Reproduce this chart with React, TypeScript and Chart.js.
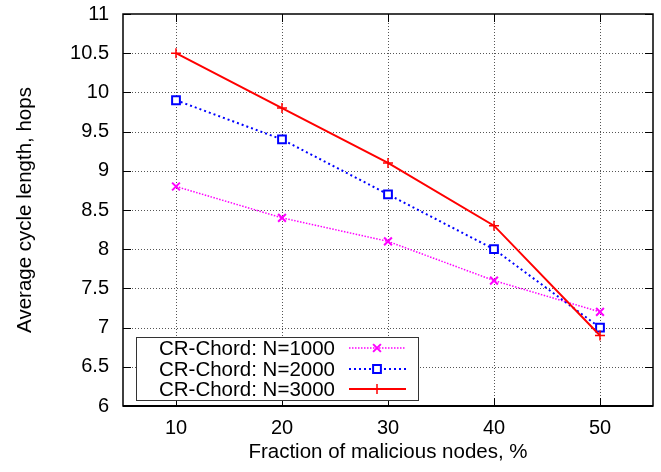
import React, { useEffect, useRef } from 'react';
import { Chart, registerables } from 'chart.js';

Chart.register(...registerables);

const xValues = [10, 20, 30, 40, 50];
const n1000 = [8.8, 8.4, 8.1, 7.6, 7.2];
const n2000 = [9.9, 9.4, 8.7, 8.0, 7.0];
const n3000 = [10.5, 9.8, 9.1, 8.3, 6.9];
const seriesLabels = ['CR-Chord: N=1000', 'CR-Chord: N=2000', 'CR-Chord: N=3000'];
const xTicks = [10, 20, 30, 40, 50];
const yTicks = [6, 6.5, 7, 7.5, 8, 8.5, 9, 9.5, 10, 10.5, 11];
const xTitle = 'Fraction of malicious nodes, %';
const yTitle = 'Average cycle length, hops';

const FONT = '"Liberation Sans", Arial, Helvetica, sans-serif';

const styles = [
  { color: '#ff00ff', dash: [1.5, 1.5], width: 1.5, marker: 'crossRot' },
  { color: '#0000ff', dash: [2, 3], width: 2, marker: 'rect' },
  { color: '#ff0000', dash: [], width: 2, marker: 'cross' },
];

function drawMarker(ctx: CanvasRenderingContext2D, kind: string, cx: number, cy: number, color: string) {
  ctx.save();
  ctx.setLineDash([]);
  ctx.strokeStyle = color;
  ctx.beginPath();
  if (kind === 'crossRot') {
    ctx.lineWidth = 2;
    const d = 3.9;
    ctx.moveTo(cx - d, cy - d); ctx.lineTo(cx + d, cy + d);
    ctx.moveTo(cx + d, cy - d); ctx.lineTo(cx - d, cy + d);
    ctx.stroke();
  } else if (kind === 'rect') {
    ctx.lineWidth = 2;
    ctx.fillStyle = '#ffffff';
    ctx.rect(cx - 3.9, cy - 3.9, 7.8, 7.8);
    ctx.fill();
    ctx.stroke();
  } else {
    ctx.lineWidth = 1.5;
    const d = 5;
    ctx.moveTo(cx - d, cy); ctx.lineTo(cx + d, cy);
    ctx.moveTo(cx, cy - d); ctx.lineTo(cx, cy + d);
    ctx.stroke();
  }
  ctx.restore();
}

const framePlugin = {
  id: 'frame',
  beforeDatasetsDraw(chart: any) {
    const { ctx, chartArea: a, scales } = chart;
    const xs = scales.x;
    const ys = scales.y;
    ctx.save();
    ctx.strokeStyle = '#555555';
    ctx.lineWidth = 1;
    ctx.setLineDash([1, 2]);
    xTicks.forEach((v) => {
      const px = Math.round(xs.getPixelForValue(v)) + 0.5;
      ctx.beginPath();
      ctx.moveTo(px, a.top);
      ctx.lineTo(px, a.bottom);
      ctx.stroke();
    });
    yTicks.forEach((v) => {
      if (v === 6 || v === 11) return;
      const py = Math.round(ys.getPixelForValue(v)) + 0.5;
      ctx.beginPath();
      ctx.moveTo(a.left, py);
      ctx.lineTo(a.right, py);
      ctx.stroke();
    });
    ctx.setLineDash([]);
    ctx.strokeStyle = '#000000';
    const tl = 8;
    xTicks.forEach((v) => {
      const px = Math.round(xs.getPixelForValue(v)) + 0.5;
      ctx.beginPath();
      ctx.moveTo(px, a.bottom);
      ctx.lineTo(px, a.bottom - tl);
      ctx.moveTo(px, a.top);
      ctx.lineTo(px, a.top + tl);
      ctx.stroke();
    });
    yTicks.forEach((v) => {
      const py = Math.round(ys.getPixelForValue(v)) + 0.5;
      ctx.beginPath();
      ctx.moveTo(a.left, py);
      ctx.lineTo(a.left + tl, py);
      ctx.moveTo(a.right, py);
      ctx.lineTo(a.right - tl, py);
      ctx.stroke();
    });
    ctx.lineWidth = 1.5;
    ctx.strokeRect(a.left, a.top, a.right - a.left, a.bottom - a.top);
    ctx.lineWidth = 2;
    ctx.beginPath();
    ctx.moveTo(a.left, a.bottom);
    ctx.lineTo(a.right, a.bottom);
    ctx.stroke();
    ctx.restore();
  },
  afterDatasetsDraw(chart: any) {
    const { ctx, chartArea: a } = chart;
    ctx.save();
    const bx = a.left + 13;
    const by = a.bottom - 69;
    const bw = 282;
    const bh = 63;
    ctx.fillStyle = '#ffffff';
    ctx.fillRect(bx, by, bw, bh);
    ctx.strokeStyle = '#333333';
    ctx.lineWidth = 1;
    ctx.strokeRect(bx + 0.5, by + 0.5, bw, bh);
    ctx.font = `20.5px ${FONT}`;
    ctx.fillStyle = '#000000';
    ctx.textAlign = 'right';
    ctx.textBaseline = 'middle';
    const rows = [by + 11, by + 32, by + 52];
    seriesLabels.forEach((lab, i) => {
      const ry = rows[i];
      ctx.fillText(lab, a.left + 212, ry + 1);
      const st = styles[i];
      ctx.strokeStyle = st.color;
      ctx.lineWidth = st.width;
      ctx.setLineDash(st.dash);
      ctx.beginPath();
      ctx.moveTo(a.left + 226, ry);
      ctx.lineTo(a.left + 283, ry);
      ctx.stroke();
      drawMarker(ctx, st.marker, a.left + 254, ry, st.color);
    });
    ctx.restore();
  },
};

export default function App() {
  const ref = useRef<HTMLCanvasElement | null>(null);

  useEffect(() => {
    document.body.style.margin = '0';
    const canvas = ref.current;
    if (!canvas) return;
    const series = [n1000, n2000, n3000];
    const chart = new Chart(canvas, {
      type: 'line',
      data: {
        datasets: series.map((vals, i) => ({
          label: seriesLabels[i],
          data: vals.map((v, j) => ({ x: xValues[j], y: v })),
          borderColor: styles[i].color,
          borderWidth: styles[i].width,
          borderDash: styles[i].dash,
          backgroundColor: i === 1 ? '#ffffff' : styles[i].color,
          pointStyle: styles[i].marker as any,
          pointRadius: i === 2 ? 5 : 5.5,
          pointBorderWidth: i === 2 ? 1.5 : 2,
          pointBorderColor: styles[i].color,
          pointBackgroundColor: i === 1 ? '#ffffff' : styles[i].color,
          fill: false,
          tension: 0,
          order: 2 - i,
        })),
      },
      options: {
        animation: false,
        responsive: false,
        devicePixelRatio: 1,
        layout: { autoPadding: false, padding: { left: 0, right: 8, top: 14, bottom: 0 } },
        plugins: {
          legend: { display: false },
          tooltip: { enabled: false },
        },
        scales: {
          x: {
            type: 'linear',
            min: 5,
            max: 55,
            afterBuildTicks: (scale: any) => {
              scale.ticks = xTicks.map((v) => ({ value: v }));
            },
            afterFit: (scale: any) => {
              scale.height = 66;
              scale.paddingLeft = 0;
              scale.paddingRight = 0;
            },
            grid: { display: false, drawTicks: false, tickLength: 0 },
            border: { display: false },
            ticks: {
              padding: 10,
              color: '#000000',
              font: { family: FONT, size: 20 },
              callback: (v: any) => String(v),
            },
            title: {
              display: true,
              text: xTitle,
              color: '#000000',
              font: { family: FONT, size: 20.5 },
              padding: { top: 0, bottom: 7 },
            },
          },
          y: {
            type: 'linear',
            min: 6,
            max: 11,
            afterBuildTicks: (scale: any) => {
              scale.ticks = yTicks.map((v) => ({ value: v }));
            },
            afterFit: (scale: any) => {
              scale.width = 123;
              scale.paddingTop = 0;
              scale.paddingBottom = 0;
            },
            grid: { display: false, drawTicks: false, tickLength: 0 },
            border: { display: false },
            ticks: {
              padding: 14,
              color: '#000000',
              font: { family: FONT, size: 20 },
              callback: (v: any) => String(v),
            },
            title: {
              display: true,
              text: yTitle,
              color: '#000000',
              font: { family: FONT, size: 20.5 },
              padding: { top: 13, bottom: 0 },
            },
          },
        },
      },
      plugins: [framePlugin],
    });
    return () => chart.destroy();
  }, []);

  return (
    <div style={{ position: 'fixed', left: 0, top: 0, width: 661, height: 472, background: '#ffffff' }}>
      <canvas ref={ref} width={661} height={472} style={{ width: 661, height: 472 }} />
    </div>
  );
}
